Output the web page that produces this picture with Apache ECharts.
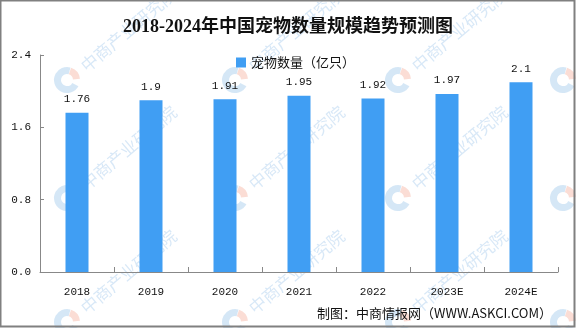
<!DOCTYPE html>
<html>
<head>
<meta charset="utf-8">
<script src="https://cdn.jsdelivr.net/npm/echarts@6/dist/echarts.min.js"></script>
<style>
  html, body { margin: 0; padding: 0; background: #fff; }
  #chart { width: 576px; height: 328px; }
</style>
</head>
<body>
<div id="chart"></div>
<script>
// Pet population in China, 2018-2024 (hundred million animals)
const categories = ['2018', '2019', '2020', '2021', '2022', '2023E', '2024E'];
const petCounts = [1.76, 1.9, 1.91, 1.95, 1.92, 1.97, 2.1];
const yTicks = [0.0, 0.8, 1.6, 2.4];
const seriesName = '宠物数量（亿只）';
const titleText = '2018-2024年中国宠物数量规模趋势预测图';
const sourceText = '制图：中商情报网（WWW.ASKCI.COM）';
const markText = '中商产业研究院';

const monoFont = '"Liberation Mono", "Noto Sans CJK SC", monospace';
const chart = echarts.init(document.getElementById('chart'), null, { renderer: 'canvas' });

// Faint brand marks tiled across the background
const markCols = [67, 235, 398, 563];
const markRows = [-38, 80, 198, 322];
const marks = [];
markRows.forEach(function (y) {
  markCols.forEach(function (x) {
    // "C" shaped emblem: blue arc open to the right, salmon wedge at top right
    marks.push({
      type: 'sector', z: -10,
      shape: { cx: x, cy: y, r: 13, r0: 6, startAngle: 0.5, endAngle: Math.PI * 2 - 1.3 },
      style: { fill: 'rgba(125,180,228,0.32)' }
    });
    marks.push({
      type: 'sector', z: -10,
      shape: { cx: x, cy: y, r: 13, r0: 6, startAngle: -1.25, endAngle: -0.1, clockwise: true },
      style: { fill: 'rgba(245,170,150,0.40)' }
    });
    marks.push({
      type: 'text', x: x + 16, y: y - 12, rotation: 0.7, z: -10,
      style: {
        text: markText, fill: 'rgba(125,180,228,0.30)',
        font: '17px "Noto Sans CJK SC"', align: 'left', verticalAlign: 'middle'
      }
    });
  });
});

const option = {
  backgroundColor: '#ffffff',
  animation: false,
  title: {
    text: titleText,
    left: 'center',
    top: 13,
    textStyle: {
      fontFamily: '"Liberation Serif", "Noto Sans CJK SC", serif',
      fontSize: 18, fontWeight: 'bold', color: '#111'
    }
  },
  legend: {
    left: 231, top: 51,
    itemWidth: 10, itemHeight: 10, icon: 'rect',
    textStyle: { fontFamily: '"Noto Sans CJK SC"', fontSize: 13, color: '#111' },
    data: [seriesName]
  },
  grid: { left: 40, right: 18, top: 55, bottom: 56, containLabel: false },
  xAxis: {
    type: 'category',
    data: categories,
    axisLine: { lineStyle: { color: '#888', width: 1 } },
    axisTick: { show: true, inside: true, length: 5, alignWithLabel: false, lineStyle: { color: '#888' } },
    axisLabel: { fontFamily: monoFont, fontSize: 11, color: '#111', margin: 15 }
  },
  yAxis: {
    type: 'value',
    min: yTicks[0], max: yTicks[yTicks.length - 1], interval: 0.8,
    axisLine: { show: true, lineStyle: { color: '#888', width: 1 } },
    axisTick: { show: true, inside: true, length: 4, lineStyle: { color: '#888' } },
    splitLine: { show: false },
    axisLabel: {
      fontFamily: monoFont, fontSize: 11, color: '#111', margin: 9,
      formatter: function (v) { return v.toFixed(1); }
    }
  },
  series: [{
    name: seriesName,
    type: 'bar',
    data: petCounts,
    barWidth: 23,
    itemStyle: { color: '#409ef3' },
    label: {
      show: true, position: 'top', distance: 8,
      fontFamily: monoFont, fontSize: 11, color: '#111',
      formatter: function (p) { return String(p.value); }
    }
  }],
  graphic: marks.concat([
    {
      type: 'text', right: 24, top: 307, z: 10,
      style: { text: sourceText, fill: '#111', font: '13px "Noto Sans CJK SC"' }
    },
    {
      type: 'rect', shape: { x: 0.5, y: 0.5, width: 574, height: 326 }, z: 20,
      style: { fill: 'none', stroke: '#808080', lineWidth: 2 }
    }
  ])
};

chart.setOption(option);
</script>
</body>
</html>
